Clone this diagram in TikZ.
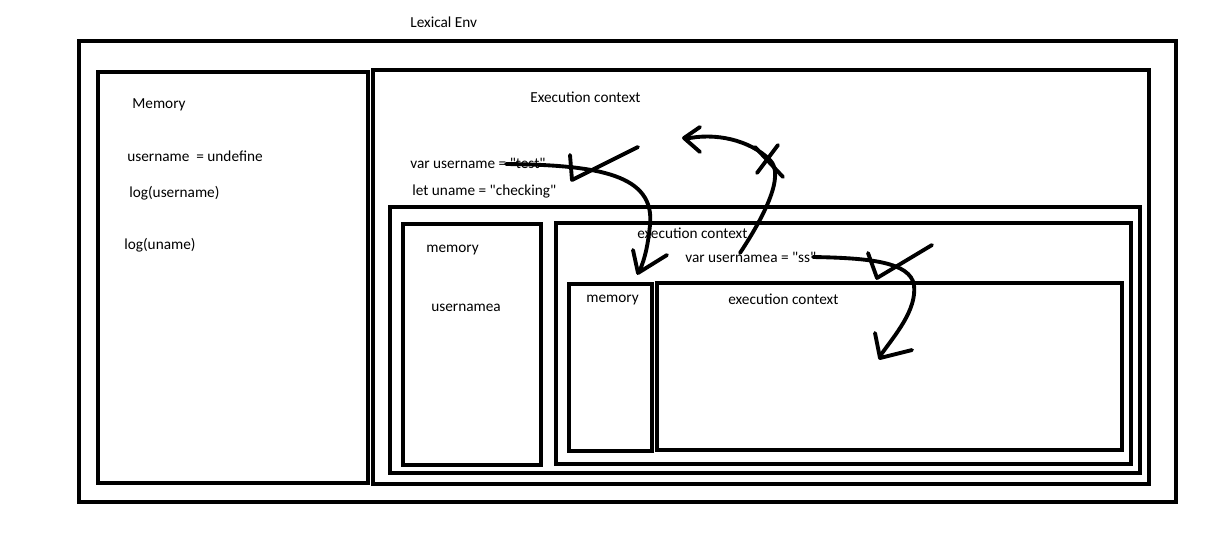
\documentclass[tikz,border=0pt]{standalone}
\usepackage{fontspec}
\setmainfont{Carlito}
\begin{document}
\begin{tikzpicture}[x=0.02cm,y=-0.02cm,
  box/.style={draw=black,line width=2.4pt},
  lbl/.style={anchor=west,inner sep=0pt,yshift=-0.03cm,font=\fontsize{8.7pt}{10pt}\selectfont},
  stroke/.style={draw=black,line width=2.2pt,line cap=round,line join=round}]
\useasboundingbox (0,0) rectangle (1211,532);
% boxes
\draw[box] (79,41) rectangle (1176,502);
\draw[box] (98,72) rectangle (368,483);
\draw[box] (373,70) rectangle (1149,484);
\draw[box] (390,207) rectangle (1140,473);
\draw[box] (403,224) rectangle (541,465);
\draw[box] (556,223) rectangle (1131,464);
\draw[box] (569,284) rectangle (652,451);
\draw[box] (657,283) rectangle (1122,450);
% texts
\node[lbl] (lex) at (410,21) {Lexical Env};
\node[lbl] (mem1) at (132,103) {Memory};
\node[lbl] (un) at (127,155) {username\ \ = undefine};
\node[lbl] (log1) at (129,192) {log(username)};
\node[lbl] (log2) at (124,244) {log(uname)};
\node[lbl] (ec1) at (530,96) {Execution context};
\node[lbl] (varu) at (410,162) {var username = \textquotedbl test\textquotedbl};
\node[lbl] (letu) at (412,190) {let uname = \textquotedbl checking\textquotedbl};
\node[lbl] (mem2) at (426,249) {memory};
\node[lbl] (una) at (431,306) {usernamea};
\node[lbl] (ec2) at (637,232) {execution context};
\node[lbl] (varua) at (685,256) {var usernamea = \textquotedbl ss\textquotedbl};
\node[lbl] (mem3) at (586,299) {memory};
\node[lbl] (ec3) at (728,298) {execution context};
% connector coordinates
\coordinate (a1s) at (506,164);
\coordinate (a1e) at (640,270);
\coordinate (a2s) at (740,253);
\coordinate (a2e) at (685,139);
\coordinate (a3s) at (813,257);
\coordinate (a3e) at (880,356);
% curve 1
\draw[stroke] (a1s) .. controls (600,165) and (655,175) .. (650,225) .. controls (648,245) and (645,258) .. (a1e);
\draw[stroke] (633,250) -- (638,273) -- (667,255);
\draw[stroke] (570,155) -- (572,180) -- (638,147);
% curve 2
\draw[stroke] (a2s) .. controls (765,215) and (785,175) .. (770,160) .. controls (750,140) and (715,132) .. (a2e);
\draw[stroke] (700,127) -- (684,138) -- (700,152);
\draw[stroke] (755,147) -- (783,177);
\draw[stroke] (757,173) -- (778,145);
% curve 3
\draw[stroke] (a3s) .. controls (870,258) and (910,262) .. (914,285) .. controls (917,310) and (895,335) .. (a3e);
\draw[stroke] (875,333) -- (880,358) -- (912,350);
\draw[stroke] (868,253) -- (877,278) -- (932,245);
\end{tikzpicture}
\end{document}
